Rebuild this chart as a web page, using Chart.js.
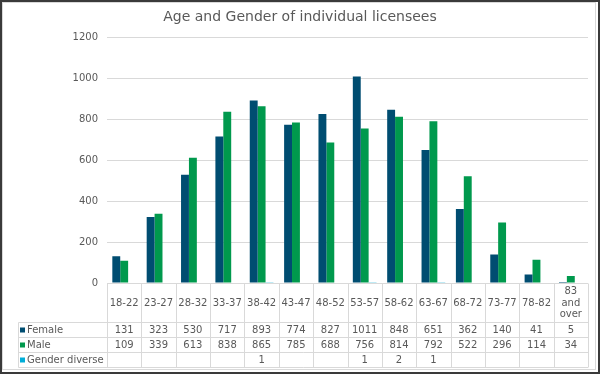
<!DOCTYPE html>
<html>
<head>
<meta charset="utf-8">
<script src="https://cdn.jsdelivr.net/npm/chart.js@4.4.1/dist/chart.umd.min.js"></script>
<style>
  body { margin: 0; background: #fff; }
  canvas { display: block; }
</style>
</head>
<body>
<canvas id="chart" width="600" height="374"></canvas>
<script>
// chart data
const ageGroups = ['18-22', '23-27', '28-32', '33-37', '38-42', '43-47', '48-52', '53-57', '58-62', '63-67', '68-72', '73-77', '78-82', '83 and over'];
const female = [131, 323, 530, 717, 893, 774, 827, 1011, 848, 651, 362, 140, 41, 5];
const male = [109, 339, 613, 838, 865, 785, 688, 756, 814, 792, 522, 296, 114, 34];
const genderDiverse = [null, null, null, null, 1, null, null, 1, 2, 1, null, null, null, null];
const yTicks = [0, 200, 400, 600, 800, 1000, 1200];

const textColor = '#595959';
const lineColor = '#d9d9d9';
const fontFamily = "'DejaVu Sans', Verdana, sans-serif";

Chart.defaults.font.family = fontFamily;
Chart.defaults.color = textColor;

// word wrap for the table header cells
function wrapText(ctx, text, maxW) {
    const words = text.split(' ');
    const lines = [];
    let line = '';
    words.forEach(w => {
        const test = line ? line + ' ' + w : w;
        if (ctx.measureText(test).width > maxW && line) {
            lines.push(line);
            line = w;
        } else {
            line = test;
        }
    });
    lines.push(line);
    return lines;
}

// data table under the plot, like the excel one
const dataTable = {
    id: 'dataTable',
    afterDraw(chart) {
        const ctx = chart.ctx;
        const area = chart.chartArea;
        const n = ageGroups.length;
        const colW = (area.right - area.left) / n;
        const top = Math.round(area.bottom) + 0.5;
        const rowsTop = top + 39;
        const rowH = 15;
        const tableLeft = 18.5;
        const bottom = rowsTop + rowH * 3;

        ctx.save();
        ctx.strokeStyle = lineColor;
        ctx.lineWidth = 1;
        ctx.beginPath();
        ctx.moveTo(area.left, top);
        ctx.lineTo(area.right, top);
        for (let r = 0; r <= 3; r++) {
            const y = rowsTop + r * rowH;
            ctx.moveTo(tableLeft, y);
            ctx.lineTo(area.right, y);
        }
        for (let i = 0; i <= n; i++) {
            const x = Math.round(area.left + i * colW) + 0.5;
            ctx.moveTo(x, top);
            ctx.lineTo(x, bottom);
        }
        ctx.moveTo(tableLeft, rowsTop);
        ctx.lineTo(tableLeft, bottom);
        ctx.stroke();

        ctx.font = '10px ' + fontFamily;
        ctx.fillStyle = textColor;
        ctx.textAlign = 'center';
        ctx.textBaseline = 'middle';

        // header labels
        ageGroups.forEach((label, i) => {
            const cx = area.left + (i + 0.5) * colW;
            const lines = wrapText(ctx, label, colW - 4);
            const lh = 11.5;
            const y0 = top + 19.5 - (lines.length - 1) * lh / 2;
            lines.forEach((l, k) => ctx.fillText(l, cx, y0 + k * lh));
        });

        // rows
        chart.data.datasets.forEach((ds, r) => {
            const cy = rowsTop + r * rowH + rowH / 2;
            ds.data.forEach((v, i) => {
                if (v === null) return;
                ctx.fillText(String(v), area.left + (i + 0.5) * colW, cy);
            });
            ctx.fillStyle = ds.backgroundColor;
            ctx.fillRect(20, cy - 2.5, 5, 5);
            ctx.fillStyle = textColor;
            ctx.textAlign = 'left';
            ctx.fillText(ds.label, 27, cy);
            ctx.textAlign = 'center';
        });

        // outer frame
        ctx.strokeStyle = lineColor;
        ctx.strokeRect(2.5, 2.5, 593, 367);
        ctx.strokeStyle = '#3a3a3a';
        ctx.lineWidth = 2;
        ctx.strokeRect(1, 1, 598, 372);
        ctx.restore();
    }
};

const ctx = document.getElementById('chart').getContext('2d');
const chart = new Chart(ctx, {
    type: 'bar',
    data: {
        labels: ageGroups,
        datasets: [{
            label: 'Female',
            data: female,
            backgroundColor: '#004d71'
        }, {
            label: 'Male',
            data: male,
            backgroundColor: '#00994d'
        }, {
            label: 'Gender diverse',
            data: genderDiverse,
            backgroundColor: '#00add8'
        }]
    },
    options: {
        responsive: false,
        devicePixelRatio: 1,
        animation: false,
        datasets: {
            bar: {
                categoryPercentage: 0.69,
                barPercentage: 1.0
            }
        },
        layout: {
            padding: { left: 12, right: 12, top: 0, bottom: 91 }
        },
        scales: {
            x: {
                display: false
            },
            y: {
                min: 0,
                max: 1200,
                afterBuildTicks: scale => {
                    scale.ticks = yTicks.map(v => ({ value: v }));
                },
                afterFit: scale => {
                    scale.width = 95;
                },
                ticks: {
                    color: textColor,
                    font: { size: 10 },
                    padding: 9,
                    callback: v => String(v)
                },
                grid: {
                    color: lineColor,
                    drawTicks: false
                },
                border: { display: false }
            }
        },
        plugins: {
            legend: { display: false },
            tooltip: { enabled: false },
            title: {
                display: true,
                text: 'Age and Gender of individual licensees',
                color: textColor,
                font: { size: 14, weight: 'normal' },
                padding: { top: 9, bottom: 12 }
            }
        }
    },
    plugins: [dataTable]
});
</script>
</body>
</html>
